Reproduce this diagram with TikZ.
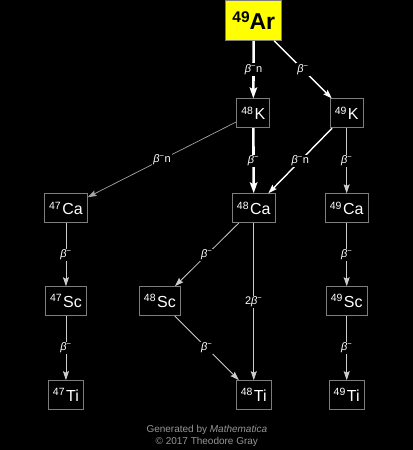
\documentclass[tikz,border=0pt]{standalone}
\usepackage{fontspec}
\setmainfont{Liberation Sans}
\usetikzlibrary{arrows.meta,positioning}
\definecolor{aryellow}{RGB}{255,255,0}
\definecolor{edgegray}{RGB}{205,205,205}
\definecolor{boxgray}{RGB}{125,125,125}
\definecolor{footgray}{RGB}{150,150,150}
\newcommand{\nuc}[2]{\raisebox{5.5pt}{\fontsize{10.5}{10.5}\selectfont #1}\hspace{1.5pt}{\fontsize{16}{16}\selectfont #2}}
\newcommand{\betam}{{\itshape β}\textsuperscript{−}}

\begin{document}
\begin{tikzpicture}[
    x=1pt, y=-1pt,
    >={Stealth[length=9pt,width=6pt,inset=1.5pt]},
    every node/.style={text=white},
    nucbox/.style={rectangle, draw=boxgray, fill=black, line width=0.8pt, minimum height=29pt, inner xsep=4.5pt, inner ysep=0pt},
    thickdecay/.style={-{Stealth[length=11pt,width=7.5pt,inset=2pt]}, draw=white, line width=2.6pt},
    middecay/.style={->, draw=white, line width=1.4pt},
    thindecay/.style={->, draw=edgegray, line width=0.8pt},
    faintdecay/.style={->, draw=edgegray!80!black, line width=0.7pt},
    declabel/.style={fill=black, inner sep=1pt, font=\fontsize{11}{11}\selectfont}
]

% Background
\fill[black] (0,0) rectangle (413,450);

% Parent
\node[nucbox, fill=aryellow, text=black, minimum height=40pt, minimum width=56pt, inner xsep=6pt] (ar49) at (254,20)
    {\raisebox{6.5pt}{\bfseries\fontsize{15.5}{15.5}\selectfont 49}{\bfseries\fontsize{23}{23}\selectfont Ar}};

% Potassium
\node[nucbox] (k48) at (253.5,113) {\nuc{48}{K}};
\node[nucbox] (k49) at (347,113) {\nuc{49}{K}};

% Calcium
\node[nucbox] (ca47) at (66,208) {\nuc{47}{Ca}};
\node[nucbox] (ca48) at (254,208) {\nuc{48}{Ca}};
\node[nucbox] (ca49) at (347,208) {\nuc{49}{Ca}};

% Scandium
\node[nucbox] (sc47) at (66,301) {\nuc{47}{Sc}};
\node[nucbox] (sc48) at (160,301) {\nuc{48}{Sc}};
\node[nucbox] (sc49) at (347,301) {\nuc{49}{Sc}};

% Titanium
\node[nucbox] (ti47) at (66,395) {\nuc{47}{Ti}};
\node[nucbox] (ti48) at (254,395) {\nuc{48}{Ti}};
\node[nucbox] (ti49) at (347,395) {\nuc{49}{Ti}};

% Decays
\draw[thickdecay] (ar49) -- node[declabel] {\betam n} (k48);
\draw[middecay] (ar49) -- node[declabel] {\betam} (k49);
\draw[thickdecay] (k48) -- node[declabel] {\betam} (ca48);
\draw[faintdecay] (k48) -- node[declabel] {\betam n} (ca47);
\draw[middecay] (k49) -- node[declabel] {\betam n} (ca48);
\draw[thindecay] (k49) -- node[declabel] {\betam} (ca49);
\draw[thindecay] (ca47) -- node[declabel] {\betam} (sc47);
\draw[thindecay] (ca48) -- node[declabel] {\betam} (sc48);
\draw[thindecay] (ca48) -- node[declabel] {2\betam} (ti48);
\draw[thindecay] (ca49) -- node[declabel] {\betam} (sc49);
\draw[thindecay] (sc47) -- node[declabel] {\betam} (ti47);
\draw[thindecay] (sc48) -- node[declabel] {\betam} (ti48);
\draw[thindecay] (sc49) -- node[declabel] {\betam} (ti49);

% Footer
\node[text=footgray, font=\fontsize{10}{10}\selectfont] (gen) at (207,430) {Generated by \textit{Mathematica}};
\node[text=footgray, font=\fontsize{10}{10}\selectfont] (copy) at (207,442) {© 2017 Theodore Gray};

\end{tikzpicture}
\end{document}
